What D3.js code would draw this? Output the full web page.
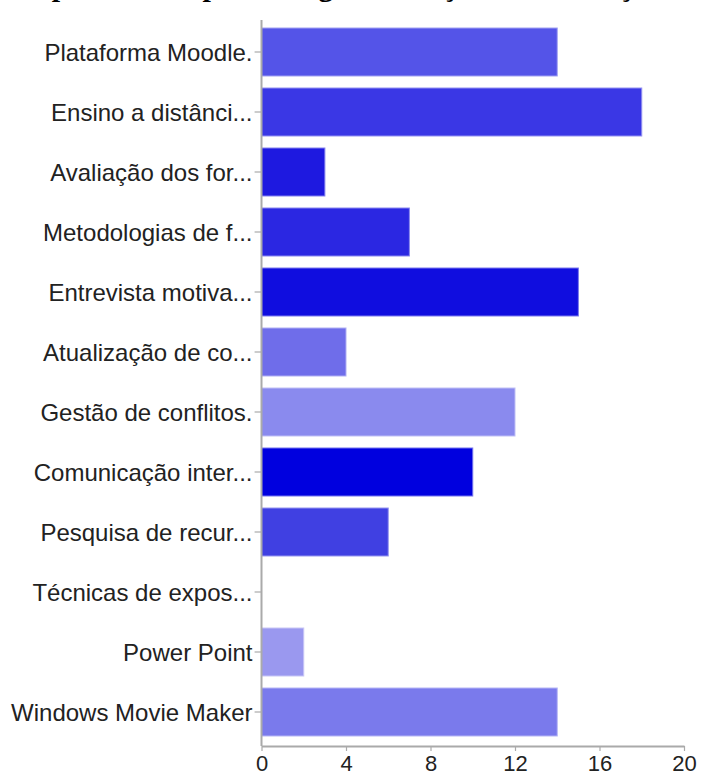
<!DOCTYPE html>
<html>
<head>
<meta charset="utf-8">
<script src="https://cdn.jsdelivr.net/npm/d3@7"></script>
<style>
  html, body { margin: 0; padding: 0; background: #fff; }
  svg { display: block; }
</style>
</head>
<body>
<svg id="chart" width="702" height="776"></svg>
<script>
// Topics and number of answers for each
const categories = [
  "Plataforma Moodle.",
  "Ensino a distânci...",
  "Avaliação dos for...",
  "Metodologias de f...",
  "Entrevista motiva...",
  "Atualização de co...",
  "Gestão de conflitos.",
  "Comunicação inter...",
  "Pesquisa de recur...",
  "Técnicas de expos...",
  "Power Point",
  "Windows Movie Maker"
];
const values = [14, 18, 3, 7, 15, 4, 12, 10, 6, 0, 2, 14];
const barColors = [
  "#5454e8", "#3a37e5", "#1e19e0", "#2b27e2", "#100ddf", "#6f6dea",
  "#8a8aee", "#0000df", "#4040e2", "#6666e8", "#9a98ef", "#7a7aec"
];
const xTicks = [0, 4, 8, 12, 16, 20];
const titleText = "Temas pertinentes para integrar em ações de formação";

const svg = d3.select("#chart");
const left = 261.5, right = 684;
const axisY = 746;

const x = d3.scaleLinear().domain([0, 20]).range([left, right]);
const y = d3.scaleBand().domain(categories).range([22, 742])
  .paddingInner(0.2).paddingOuter(0.1);

// Title: heading line above the plot area, scrolled mostly out of view
svg.append("text")
  .attr("x", -38).attr("y", -4)
  .attr("font-family", "'Liberation Serif', 'DejaVu Serif', serif")
  .attr("font-weight", "bold")
  .attr("font-size", 30)
  .attr("fill", "#000")
  .text(titleText);

// Bars
svg.append("g").selectAll("rect")
  .data(values)
  .join("rect")
  .attr("x", x(0))
  .attr("y", (d, i) => y(categories[i]))
  .attr("width", d => Math.max(0, x(d) - x(0)))
  .attr("height", y.bandwidth())
  .attr("fill", (d, i) => barColors[i])
  .attr("stroke", (d, i) => d3.interpolateRgb(barColors[i], "#ffffff")(0.45))
  .attr("stroke-width", 1)
  .attr("display", d => d > 0 ? null : "none");

// Category axis
const yAxis = svg.append("g")
  .attr("transform", `translate(${left},0)`)
  .call(d3.axisLeft(y).tickSize(7).tickPadding(2));
yAxis.select(".domain").remove();
yAxis.selectAll(".tick line").attr("stroke", "#aaa").attr("stroke-width", 1.2);
yAxis.selectAll(".tick text")
  .attr("font-family", "'Liberation Sans', Arial, Helvetica, sans-serif")
  .attr("font-size", 24)
  .attr("fill", "#222")
  .attr("dy", "0.36em");

svg.append("line")
  .attr("x1", left).attr("x2", left)
  .attr("y1", 20).attr("y2", axisY)
  .attr("stroke", "#aaa").attr("stroke-width", 2);

// Value axis
const xAxis = svg.append("g")
  .attr("transform", `translate(0,${axisY})`)
  .call(d3.axisBottom(x).tickValues(xTicks).tickSize(5).tickPadding(7).tickSizeOuter(0));
xAxis.select(".domain").attr("stroke", "#aaa").attr("stroke-width", 2);
xAxis.selectAll(".tick line").attr("stroke", "#aaa").attr("stroke-width", 1.2);
xAxis.selectAll(".tick text")
  .attr("font-family", "'Liberation Sans', Arial, Helvetica, sans-serif")
  .attr("font-size", 22)
  .attr("fill", "#222")
  .attr("y", 0)
  .attr("dy", 0)
  .attr("dominant-baseline", "auto")
  .attr("transform", "translate(0,25)");
</script>
</body>
</html>
